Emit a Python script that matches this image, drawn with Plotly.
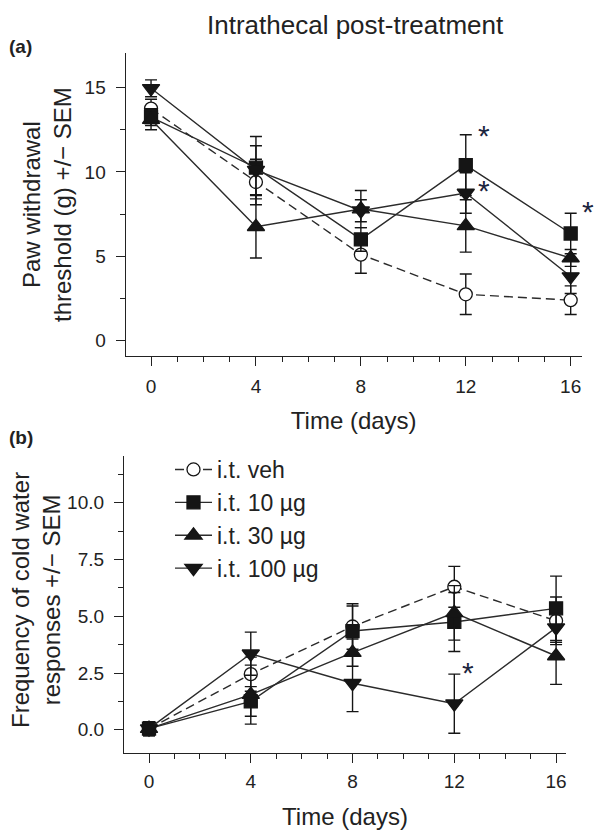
import plotly.graph_objects as go

days = [0, 4, 8, 12, 16]
groups = ["i.t. veh", "i.t. 10 µg", "i.t. 30 µg", "i.t. 100 µg"]

# Panel (a): paw withdrawal threshold (g)
paw_veh = [13.75, 9.4, 5.1, 2.75, 2.4]
paw_veh_err = [0.55, 1.35, 1.1, 1.2, 0.85]
paw_10 = [13.25, 10.25, 6.0, 10.4, 6.35]
paw_10_err = [0.5, 1.85, 0.7, 1.8, 1.2]
paw_30 = [13.1, 6.75, 7.8, 6.8, 4.9]
paw_30_err = [0.6, 1.85, 1.1, 1.55, 0.5]
paw_100 = [14.95, 10.1, 7.7, 8.75, 3.8]
paw_100_err = [0.5, 1.45, 0.65, 1.2, 1.0]

# Panel (b): frequency of cold water responses
cold_veh = [0.05, 2.45, 4.55, 6.3, 4.8]
cold_veh_err = [0.3, 0.75, 1.0, 0.9, 1.05]
cold_10 = [0.05, 1.25, 4.35, 4.75, 5.35]
cold_10_err = [0.3, 0.65, 1.1, 1.3, 1.42]
cold_30 = [0.05, 1.55, 3.4, 5.15, 3.25]
cold_30_err = [0.3, 1.3, 0.6, 1.2, 1.25]
cold_100 = [0.05, 3.35, 2.05, 1.15, 4.5]
cold_100_err = [0.3, 0.95, 1.25, 1.3, 0.65]

# significance stars (x, y) in data units
stars_a = [(12.68, 12.32), (12.68, 9.06), (16.0, 7.84)]
stars_b = [(12.55, 2.67)]

# the page body has an 8px margin; the figure is sized to fill the window
OFF = 8
W, H = 602 - OFF, 830 - OFF
FONT = "Liberation Sans, Arial, Helvetica, sans-serif"
LINE = "#2b2b2b"
MK = "#151515"

styles = [
    dict(symbol="circle", dash="9px,5px", size=13, fill="white"),
    dict(symbol="square", dash="solid", size=13, fill=MK),
    dict(symbol="triangle-up", dash="solid", size=15, fill=MK),
    dict(symbol="triangle-down", dash="solid", size=15, fill=MK),
]

fig = go.Figure()

panel_a = [(paw_veh, paw_veh_err), (paw_10, paw_10_err), (paw_30, paw_30_err), (paw_100, paw_100_err)]
panel_b = [(cold_veh, cold_veh_err), (cold_10, cold_10_err), (cold_30, cold_30_err), (cold_100, cold_100_err)]


def add_series(vals, errs, st, name, xa, ya, legend):
    fig.add_trace(go.Scatter(
        x=days, y=vals, name=name, mode="lines+markers", showlegend=legend,
        line=dict(color=LINE, width=1.4, dash=st["dash"]),
        marker=dict(symbol=st["symbol"], size=st["size"], color=st["fill"],
                    line=dict(color=MK, width=1.3)),
        error_y=dict(type="data", array=errs, visible=True, color=MK, thickness=1.4, width=6),
        xaxis=xa, yaxis=ya, cliponaxis=False,
    ))


for (vals, errs), st, name in zip(panel_a, styles, groups):
    add_series(vals, errs, st, name, "x", "y", False)
for (vals, errs), st, name in zip(panel_b, styles, groups):
    add_series(vals, errs, st, name, "x2", "y2", True)


def px_x(p):
    return (p - OFF) / W


def px_y(p):
    return 1 - (p - OFF) / H


axis_common = dict(
    showline=True, linecolor="#222", linewidth=1.3, showgrid=False, zeroline=False,
    ticks="outside", ticklen=9, tickwidth=1.3, tickcolor="#222",
    tickfont=dict(family=FONT, size=19, color="#222"),
)
minor_common = dict(ticks="outside", ticklen=5, tickwidth=1.3, tickcolor="#222")

fig.update_layout(
    width=W, height=H,
    margin=dict(l=0, r=0, t=0, b=0),
    paper_bgcolor="white", plot_bgcolor="white",
    font=dict(family=FONT, color="#222"),
    xaxis=dict(domain=[px_x(125.7), px_x(581.7)], anchor="y", range=[-0.966, 16.42],
               tickvals=days, ticklabelstandoff=4,
               minor=dict(dtick=1, **minor_common),
               title=dict(text="Time (days)", font=dict(family=FONT, size=24), standoff=16),
               **axis_common),
    yaxis=dict(domain=[px_y(356), px_y(52.7)], anchor="x", range=[-0.906, 17.06],
               tickvals=[0, 5, 10, 15], ticklabelstandoff=6,
               minor=dict(tickvals=[2.5, 7.5, 12.5], **minor_common),
               **axis_common),
    xaxis2=dict(domain=[px_x(124), px_x(566)], anchor="y2", range=[-0.983, 16.39],
                tickvals=days, ticklabelstandoff=3,
                minor=dict(dtick=1, **minor_common),
                title=dict(text="Time (days)", font=dict(family=FONT, size=24), standoff=17),
                **axis_common),
    yaxis2=dict(domain=[px_y(752.5), px_y(456)], anchor="x2", range=[-1.0, 12.06],
                tickvals=[0, 2.5, 5, 7.5, 10], ticktext=["0.0", "2.5", "5.0", "7.5", "10.0"],
                ticklabelstandoff=6,
                minor=dict(tickvals=[1.25, 3.75, 6.25, 8.75, 11.25], **minor_common),
                **axis_common),
    legend=dict(x=px_x(170), y=px_y(448), xanchor="left", yanchor="top",
                font=dict(family=FONT, size=23, color="#222"), bgcolor="rgba(0,0,0,0)",
                tracegroupgap=0, itemwidth=37),
    showlegend=True,
)

annos = [
    dict(text="Intrathecal post-treatment", x=px_x(355.5), y=px_y(25.5), xanchor="center", yanchor="middle",
         showarrow=False, font=dict(family=FONT, size=26, color="#222")),
    dict(text="<b>(a)</b>", x=px_x(7), y=px_y(46), xanchor="left", yanchor="middle",
         showarrow=False, font=dict(family=FONT, size=19, color="#222")),
    dict(text="<b>(b)</b>", x=px_x(7), y=px_y(437), xanchor="left", yanchor="middle",
         showarrow=False, font=dict(family=FONT, size=19, color="#222")),
    dict(text="Paw withdrawal<br>threshold (g) +/\u2212 SEM", x=px_x(47), y=px_y(205),
         xanchor="center", yanchor="middle", textangle=-90, showarrow=False,
         font=dict(family=FONT, size=24, color="#222")),
    dict(text="Frequency of cold water<br>responses +/\u2212 SEM", x=px_x(36), y=px_y(600),
         xanchor="center", yanchor="middle", textangle=-90, showarrow=False,
         font=dict(family=FONT, size=24, color="#222")),
]
for a in annos:
    a.update(xref="paper", yref="paper")

for i, (sx, sy) in enumerate(stars_a):
    annos.append(dict(text="*", x=sx, y=sy, xref="x", yref="y", showarrow=False, yshift=-3,
                      xanchor="center", yanchor="middle", xshift=17 if i == 2 else 0,
                      font=dict(family=FONT, size=30, color="#1c2540")))
for sx, sy in stars_b:
    annos.append(dict(text="*", x=sx, y=sy, xref="x2", yref="y2", showarrow=False, yshift=-3,
                      xanchor="center", yanchor="middle",
                      font=dict(family=FONT, size=30, color="#1c2540")))
fig.update_layout(annotations=annos)

fig.write_html("out.html")
